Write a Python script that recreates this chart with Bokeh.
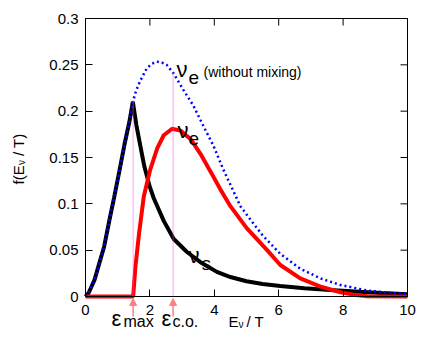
import math
from bokeh.plotting import figure
from bokeh.models import Range1d, FixedTicker, Label, Arrow, NormalHead
from bokeh.embed import file_html
from bokeh.resources import INLINE

# ---- data ----
E_nomix = [0, 0.1, 0.28, 0.43, 0.58, 0.74, 0.89, 1.05, 1.21, 1.36, 1.47, 1.57, 1.69, 1.9,
           2.05, 2.21, 2.37, 2.52, 2.73, 3.04, 3.35, 3.66, 3.97, 4.28, 4.81, 5.12, 5.5,
           6.05, 6.67, 7.3, 7.92, 8.75, 9.4, 10]
f_nomix = [0, 0.004, 0.018, 0.036, 0.054, 0.082, 0.107, 0.135, 0.164, 0.188, 0.21, 0.222,
           0.232, 0.246, 0.251, 0.2535, 0.2525, 0.25, 0.241, 0.223, 0.206, 0.184, 0.163,
           0.137, 0.0975, 0.083, 0.066, 0.046, 0.030, 0.0195, 0.0124, 0.0064, 0.004, 0.0026]

E_s = [0, 0.1, 0.28, 0.43, 0.58, 0.74, 0.89, 1.05, 1.21, 1.36, 1.47, 1.58, 1.7, 1.83, 2.0,
       2.12, 2.43, 2.74, 3.15, 3.57, 4.08, 4.5, 5.0, 5.5, 6.05, 6.8, 7.6, 8.5, 9.2, 10]
f_s = [0, 0.004, 0.018, 0.036, 0.054, 0.082, 0.107, 0.135, 0.164, 0.188, 0.21, 0.185, 0.163,
       0.14, 0.118, 0.106, 0.0816, 0.062, 0.048, 0.037, 0.0266, 0.021, 0.0165, 0.0135,
       0.0114, 0.009, 0.0071, 0.0052, 0.0038, 0.0025]

E_e = [0, 1.48, 1.55, 1.66, 1.81, 2.01, 2.23, 2.43, 2.69, 2.95, 3.26, 3.57, 3.88, 4.2, 4.5,
       5.0, 5.64, 6.05, 6.67, 7.3, 7.92, 8.4, 8.75, 10]
f_e = [0, 0, 0.032, 0.067, 0.108, 0.137, 0.16, 0.174, 0.181, 0.179, 0.17, 0.154, 0.135,
       0.115, 0.0975, 0.074, 0.05, 0.034, 0.0195, 0.0107, 0.0046, 0.0015, 0.0003, 0]

eps_pos = [1.48, 2.72]          # eps_max, eps_c.o.
eps_top = [0.212, 0.241]        # heights of the marker lines

x_ticks = [0, 2, 4, 6, 8, 10]
y_ticks = [0, 0.05, 0.1, 0.15, 0.2, 0.25, 0.3]
y_tick_labels = ["0", "0.05", "0.1", "0.15", "0.2", "0.25", "0.3"]

X0, X1, Y0, Y1 = 0, 10, 0, 0.3
FONT = "Liberation Sans"

# layout in pixels: plot box from x=85..407, y=18..296 inside a 416x330 figure
W, H = 416, 330
BL, BR, BT, BB = 85, 407, 18, 296
sx = (BR - BL) / (X1 - X0)
sy = (BB - BT) / (Y1 - Y0)
TICK = 7

p = figure(width=W, height=H, output_backend="svg", toolbar_location=None,
           x_range=Range1d(X0 - BL / sx, X1 + (W - BR) / sx),
           y_range=Range1d(Y0 - (H - BB) / sy, Y1 + BT / sy),
           min_border=0)
p.grid.visible = False
p.outline_line_color = None
p.background_fill_color = "white"
p.border_fill_color = "white"

for ax, ticks, loc, bnd in ((p.xaxis[0], x_ticks, Y0, (X0, X1)),
                            (p.yaxis[0], y_ticks, X0, (Y0, Y1))):
    ax.fixed_location = loc
    ax.bounds = bnd
    ax.ticker = FixedTicker(ticks=ticks)
    ax.major_tick_in = TICK
    ax.major_tick_out = 0
    ax.minor_tick_in = 0
    ax.minor_tick_out = 0
    ax.axis_line_color = "black"
    ax.major_tick_line_color = "black"
    ax.axis_label = None
    ax.major_label_text_font = FONT
    ax.major_label_text_font_size = "15px"
    ax.major_label_text_color = "black"
p.xaxis[0].major_label_standoff = 8
p.yaxis[0].major_label_standoff = 7
p.yaxis[0].major_label_overrides = {t: s for t, s in zip(y_ticks, y_tick_labels)}

# curves
p.line(E_s, f_s, line_color="black", line_width=4)
p.line(E_e, f_e, line_color="#ff0000", line_width=4)
p.line(E_nomix, f_nomix, line_color="#0000ff", line_width=2.5, line_dash="2 3")

# top and right edges of the box, with mirrored inward ticks
p.segment(x0=[X0, X1], y0=[Y1, Y0], x1=[X1, X1], y1=[Y1, Y1],
          line_color="black", line_width=1)
p.segment(x0=x_ticks, y0=[Y1] * len(x_ticks), x1=x_ticks,
          y1=[Y1 - TICK / sy] * len(x_ticks), line_color="black", line_width=1)
p.segment(x0=[X1] * len(y_ticks), y0=y_ticks, x1=[X1 - TICK / sx] * len(y_ticks),
          y1=y_ticks, line_color="black", line_width=1)

# marker lines and arrows
p.segment(x0=eps_pos, y0=[0, 0], x1=eps_pos, y1=eps_top,
          line_color="#ff44ff", line_width=1, line_dash="1 1")
for xe in eps_pos:
    p.add_layout(Arrow(end=NormalHead(size=7, fill_color="#ff8080", line_color="#ff8080"),
                       x_start=xe, y_start=-20 / sy, x_end=xe, y_end=-2 / sy,
                       line_color="#ff8080", line_width=1.5))

# text labels placed by pixel position in the figure
def lab(text, px, py, size, angle=0.0):
    p.add_layout(Label(x=X0 + (px - BL) / sx, y=Y0 + (BB - py) / sy, text=text,
                       text_font=FONT, text_font_size=size, text_color="black",
                       text_baseline="alphabetic", text_align="left", angle=angle))

# curve labels (reference positions converted to data units)
def rlab(text, px, py, size):
    p.add_layout(Label(x=(px - 85) / 32.2, y=(300 - py) / 940, text=text,
                       text_font=FONT, text_font_size=size, text_color="black",
                       text_baseline="alphabetic", text_align="left"))

rlab("ν", 176, 70, "22px")
rlab("e", 188, 78, "19px")
rlab("(without mixing)", 203, 72, "14px")
rlab("ν", 177, 132, "22px")
rlab("e", 188, 140, "19px")
rlab("ν", 188, 258, "22px")
rlab("s", 201, 267, "19px")

lab("ε", 111, 318, "22px")
lab("max", 123, 321, "16px")
lab("ε", 161, 318, "22px")
lab("c.o.", 172, 321, "16px")

lab("E", 228, 321, "15px")
lab("ν", 238, 324, "10px")
lab("/ T", 246, 321, "15px")

ang = math.pi / 2
lab("f(E", 18, 184, "15px", ang)
lab("ν", 21, 164.5, "10px", ang)
lab("/ T)", 18, 155.5, "15px", ang)

open("out.html", "w").write(file_html(p, INLINE))
